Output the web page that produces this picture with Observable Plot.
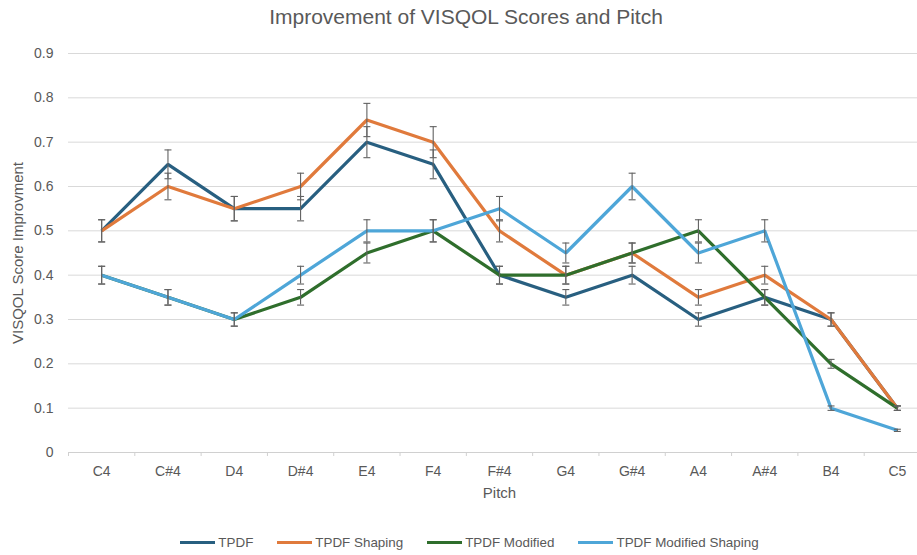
<!DOCTYPE html>
<html>
<head>
<meta charset="utf-8">
<script src="https://cdn.jsdelivr.net/npm/d3@7"></script>
<script src="https://cdn.jsdelivr.net/npm/@observablehq/plot@0.6"></script>
<style>
  html, body { margin: 0; padding: 0; background: #fff; overflow: hidden; width: 917px; height: 555px; }
  #title { height: 36px; line-height: 34px; font-family: "Liberation Sans", sans-serif; font-size: 21px; color: #595959; text-align: center; width: 917px; padding-left: 15px; box-sizing: border-box; }
  #chart svg { display: block; overflow: hidden; }
  #legend { display: flex; justify-content: center; align-items: center; height: 35px; padding-top: 10px; width: 917px; padding-left: 22px; box-sizing: border-box; font-family: "Liberation Sans", sans-serif; font-size: 13.4px; color: #595959; }
  .item { display: flex; align-items: center; margin: 0 12px; }
  .sw { width: 35px; height: 3px; margin-right: 3px; }
</style>
</head>
<body>
<div id="title">Improvement of VISQOL Scores and Pitch</div>
<div id="chart"></div>
<div id="legend"></div>
<script>
const pitches = ["C4","C#4","D4","D#4","E4","F4","F#4","G4","G#4","A4","A#4","B4","C5"];
const seriesNames = ["TPDF","TPDF Shaping","TPDF Modified","TPDF Modified Shaping"];
const tpdf           = [0.5,0.65,0.55,0.55,0.7,0.65,0.4,0.35,0.4,0.3,0.35,0.3,0.1];
const tpdfShaping    = [0.5,0.6,0.55,0.6,0.75,0.7,0.5,0.4,0.45,0.35,0.4,0.3,0.1];
const tpdfModified   = [0.4,0.35,0.3,0.35,0.45,0.5,0.4,0.4,0.45,0.5,0.35,0.2,0.1];
const tpdfModShaping = [0.4,0.35,0.3,0.4,0.5,0.5,0.55,0.45,0.6,0.45,0.5,0.1,0.05];
const errorPct = 0.05; // percentage error bars
const yTicks = [0,0.1,0.2,0.3,0.4,0.5,0.6,0.7,0.8,0.9];
const colors = ["#285f80","#e07a3c","#2f6e2c","#4ea6d8"];

const seriesValues = [tpdf, tpdfShaping, tpdfModified, tpdfModShaping];
const rows = [];
seriesNames.forEach((s, k) => seriesValues[k].forEach((v, i) => rows.push({series: s, i, value: v})));

const idx = pitches.map((_, i) => i);
const edges = pitches.map((_, i) => i - 0.5).concat([pitches.length - 0.5]);

const capSymbol = {
  draw(context, size) {
    const r = Math.sqrt(size / Math.PI);
    context.moveTo(-r, 0);
    context.lineTo(r, 0);
  }
};

const font = '"Liberation Sans", sans-serif';
const errColor = "#626262";

const chart = Plot.plot({
  width: 917,
  height: 484,
  marginLeft: 68,
  marginRight: -13,
  marginTop: 17,
  marginBottom: 68,
  style: {fontFamily: font, fontSize: "14px", color: "#595959", background: "#fff"},
  x: {type: "linear", domain: [-0.5, pitches.length - 0.5]},
  y: {domain: [0, 0.9]},
  color: {domain: seriesNames, range: colors},
  marks: [
    Plot.gridY(yTicks, {stroke: "#d9d9d9", strokeOpacity: 1, strokeWidth: 1}),
    Plot.ruleY([0], {stroke: "#d0d0d0", strokeWidth: 1}),
    Plot.axisX({ticks: edges, tickSize: 4, tickFormat: () => "", stroke: "#d0d0d0", label: null}),
    Plot.axisX({ticks: idx, tickSize: 0, tickPadding: 14, tickFormat: i => pitches[i], fill: "#595959", fontSize: 14, label: null}),
    Plot.axisY({ticks: yTicks, tickSize: 0, tickPadding: 15, tickFormat: d => String(d), fill: "#595959", fontSize: 14, label: null}),
    Plot.text(["VISQOL Score Improvment"], {frameAnchor: "left", textAnchor: "middle", dx: -50, rotate: -90, fontSize: 15, fill: "#595959"}),
    Plot.text(["Pitch"], {frameAnchor: "bottom", textAnchor: "middle", dy: 45, fontSize: 15, fill: "#595959"}),
    Plot.line(rows, {x: "i", y: "value", z: "series", stroke: "series", strokeWidth: 3.2, strokeLinejoin: "miter", strokeLinecap: "butt"}),
    Plot.ruleX(rows, {x: "i", y1: d => d.value * (1 - errorPct), y2: d => d.value * (1 + errorPct), stroke: errColor, strokeWidth: 1.1}),
    Plot.dot(rows, {x: "i", y: d => d.value * (1 + errorPct), symbol: capSymbol, r: 3.5, stroke: errColor, fill: "none", strokeWidth: 1.1}),
    Plot.dot(rows, {x: "i", y: d => d.value * (1 - errorPct), symbol: capSymbol, r: 3.5, stroke: errColor, fill: "none", strokeWidth: 1.1})
  ]
});
document.getElementById("chart").appendChild(chart);

const legend = document.getElementById("legend");
seriesNames.forEach((s, k) => {
  const item = document.createElement("div");
  item.className = "item";
  const sw = document.createElement("div");
  sw.className = "sw";
  sw.style.background = colors[k];
  const t = document.createElement("span");
  t.textContent = s;
  item.appendChild(sw);
  item.appendChild(t);
  legend.appendChild(item);
});
</script>
</body>
</html>
